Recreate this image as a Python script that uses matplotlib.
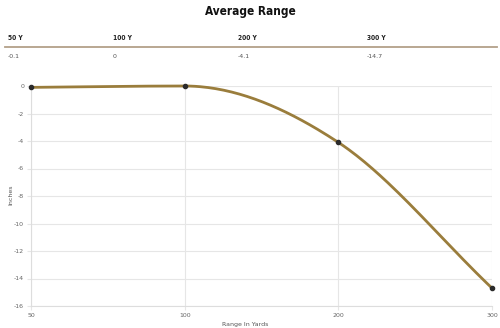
import numpy as np
import matplotlib.pyplot as plt

plt.rcParams["axes.unicode_minus"] = False

# drop at each range, inches
ranges = ["50", "100", "200", "300"]
drop = [-0.1, 0, -4.1, -14.7]
headers = ["50 Y", "100 Y", "200 Y", "300 Y"]
cells = ["-0.1", "0", "-4.1", "-14.7"]

line_color = "#9a7d3c"
grid_color = "#e6e6e6"
tick_color = "#666666"
head_font = dict(family="DejaVu Sans", fontstretch="condensed", fontweight="bold")


def monotone_curve(x, y, n=60):
    # Fritsch-Carlson monotone cubic through the points
    x = np.asarray(x, float)
    y = np.asarray(y, float)
    d = np.diff(y) / np.diff(x)
    m = np.zeros_like(y)
    m[0], m[-1] = d[0], d[-1]
    for i in range(1, len(y) - 1):
        if d[i - 1] * d[i] <= 0:
            m[i] = 0
        else:
            m[i] = (d[i - 1] + d[i]) / 2
    for i in range(len(d)):
        if d[i] == 0:
            m[i] = m[i + 1] = 0
            continue
        a, b = m[i] / d[i], m[i + 1] / d[i]
        s = a * a + b * b
        if s > 9:
            t = 3 / np.sqrt(s)
            m[i], m[i + 1] = t * a * d[i], t * b * d[i]
    xs, ys = [], []
    for i in range(len(d)):
        h = x[i + 1] - x[i]
        t = np.linspace(0, 1, n)
        h00 = 2 * t**3 - 3 * t**2 + 1
        h10 = t**3 - 2 * t**2 + t
        h01 = -2 * t**3 + 3 * t**2
        h11 = t**3 - t**2
        xs.append(x[i] + t * h)
        ys.append(h00 * y[i] + h10 * h * m[i] + h01 * y[i + 1] + h11 * h * m[i + 1])
    return np.concatenate(xs), np.concatenate(ys)


fig = plt.figure(figsize=(5, 3.28), dpi=100)

fig.text(0.5, 0.985, "Average Range", ha="center", va="top", fontsize=8.5,
         color="#111111", **head_font)

# small summary table above the chart
col_x = [8, 113, 238, 367]
for cx, head, val in zip(col_x, headers, cells):
    fig.text(cx / 500, 1 - 38 / 328, head, ha="left", va="center", fontsize=4.8,
             color="#222222", **head_font)
    fig.text(cx / 500, 1 - 57 / 328, val, ha="left", va="center", fontsize=4.5,
             color="#555555")
fig.add_artist(plt.Line2D([5 / 500, 497 / 500], [1 - 46.5 / 328] * 2,
                          color="#b3a089", lw=1.3))

ax = fig.add_axes([31 / 500, 1 - 306 / 328, (492 - 31) / 500, (306 - 86) / 328])
idx = np.arange(len(ranges))
cx_, cy_ = monotone_curve(idx, drop)
ax.plot(cx_, cy_, color=line_color, lw=2, clip_on=False, zorder=3)
ax.scatter(idx, drop, s=9, color="#2b2b2b", zorder=4, clip_on=False)

ax.set_xlim(0, len(ranges) - 1)
ax.set_ylim(-16, 0)
ax.set_xticks(idx)
ax.set_xticklabels(ranges)
ax.set_yticks(np.arange(-16, 1, 2))
ax.grid(True, color=grid_color, lw=0.8)
ax.set_axisbelow(True)
for side in ["top", "right"]:
    ax.spines[side].set_visible(False)
for side in ["left", "bottom"]:
    ax.spines[side].set_color("#dddddd")
    ax.spines[side].set_linewidth(0.8)
ax.tick_params(labelsize=4.5, colors=tick_color, length=3, color=grid_color, pad=2)
ax.set_xlabel("Range In Yards", fontsize=4.5, color="#555555")
ax.set_ylabel("Inches", fontsize=4.5, color="#555555")
ax.xaxis.set_label_coords((245 - 31) / 461, -16 / 220)
ax.yaxis.set_label_coords((13 - 31) / 461, (306 - 195) / 220)

fig.savefig("out.png", dpi=100)
